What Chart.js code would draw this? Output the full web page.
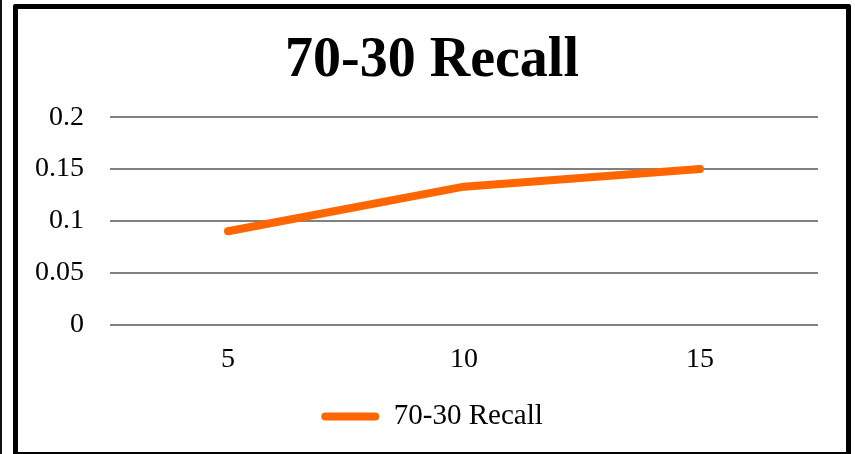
<!DOCTYPE html>
<html>
<head>
<meta charset="utf-8">
<script src="https://cdn.jsdelivr.net/npm/chart.js@4/dist/chart.umd.min.js"></script>
<style>
  html, body { margin: 0; padding: 0; background: #ffffff; overflow: hidden; }
  body { width: 855px; height: 454px; position: relative; }
  #edge { position: absolute; left: 0; top: 0; width: 2px; height: 454px; background: #111; }
  #box { position: absolute; left: 13px; top: 4px; width: 828px; height: 443px;
         border: 5px solid #000; border-radius: 2px; background: #fff; }
  #wrap { position: absolute; left: 0; top: 0; width: 828px; height: 443px; }
</style>
</head>
<body>
<div id="edge"></div>
<div id="box"><div id="wrap"><canvas id="c"></canvas></div></div>
<script>
const chartTitle = "70-30 Recall";
const categories = ["5", "10", "15"];
const seriesName = "70-30 Recall";
const recallValues = [0.09, 0.133, 0.15];
const yTicks = [0, 0.05, 0.1, 0.15, 0.2];

const orange = "#FF6600";
const serif = "'Liberation Serif', 'Times New Roman', serif";

new Chart(document.getElementById("c"), {
  type: "line",
  data: {
    labels: categories,
    datasets: [{
      label: seriesName,
      data: recallValues,
      borderColor: orange,
      backgroundColor: orange,
      borderWidth: 8,
      borderCapStyle: "round",
      borderJoinStyle: "round",
      tension: 0,
      pointRadius: 0,
      pointHoverRadius: 0,
      fill: false
    }]
  },
  options: {
    responsive: true,
    maintainAspectRatio: false,
    animation: false,
    events: [],
    layout: { padding: { left: 0, right: 0, top: 0, bottom: 11 } },
    plugins: {
      title: {
        display: true,
        text: chartTitle,
        color: "#000",
        font: { family: serif, size: 56, weight: "bold", lineHeight: 1.2 },
        padding: { top: 19, bottom: 22 }
      },
      legend: {
        display: true,
        position: "bottom",
        labels: {
          color: "#000",
          font: { family: serif, size: 29 },
          boxWidth: 58,
          boxHeight: 8,
          useBorderRadius: true,
          borderRadius: 4,
          padding: 8,
          generateLabels: (chart) => chart.data.datasets.map((ds, i) => ({
            text: ds.label,
            fillStyle: ds.borderColor,
            strokeStyle: ds.borderColor,
            lineWidth: 0,
            borderRadius: 4,
            datasetIndex: i,
            hidden: false,
            fontColor: "#000"
          }))
        }
      },
      tooltip: { enabled: false }
    },
    scales: {
      x: {
        offset: true,
        grid: { display: false, drawTicks: false },
        border: { display: false },
        ticks: { color: "#000", font: { family: serif, size: 28, lineHeight: 1.05 }, padding: 20 }
      },
      y: {
        min: 0,
        max: 0.2,
        afterBuildTicks: (scale) => { scale.ticks = yTicks.map(v => ({ value: v })); },
        afterFit: (scale) => { scale.width = 92; },
        grid: { color: "#808080", lineWidth: 2, drawTicks: false },
        border: { display: false },
        ticks: {
          color: "#000",
          font: { family: serif, size: 28 },
          padding: 26,
          callback: (v) => String(Number(v.toFixed(2)))
        }
      },
      yRight: {
        position: "right",
        display: true,
        min: 0,
        max: 0.2,
        afterFit: (scale) => { scale.width = 28; },
        grid: { display: false, drawTicks: false },
        border: { display: false },
        ticks: { display: false }
      }
    }
  }
});
</script>
</body>
</html>
